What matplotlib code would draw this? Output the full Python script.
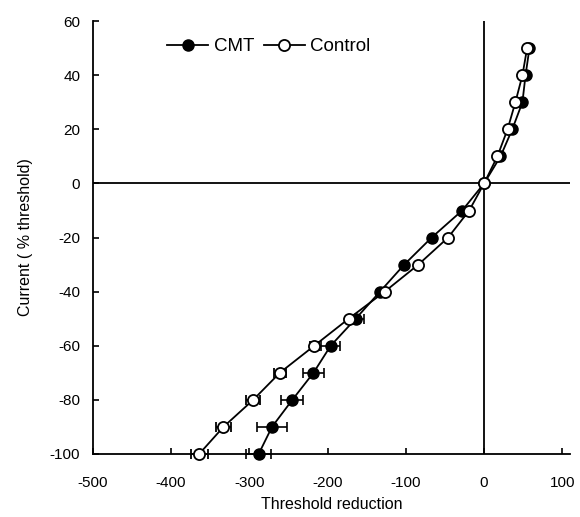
import matplotlib
matplotlib.use("Agg")
import matplotlib.pyplot as plt

plt.rcParams['font.family'] = ['Liberation Sans', 'DejaVu Sans']
plt.rcParams['axes.unicode_minus'] = False

# current levels (% threshold)
current = [50, 40, 30, 20, 10, 0, -10, -20, -30, -40, -50, -60, -70, -80, -90, -100]

# threshold reduction
cmt = [58, 53, 49, 36, 21, 0, -28, -67, -102, -133, -164, -196, -218, -245, -271, -288]
cmt_err = [0, 0, 0, 0, 0, 0, 0, 0, 0, 0, 10, 12, 14, 14, 19, 16]
control = [55, 49, 40, 30, 17, 0, -19, -46, -84, -127, -173, -217, -261, -295, -333, -364]
control_err = [0, 0, 0, 0, 0, 0, 0, 0, 0, 0, 0, 6, 8, 9, 9, 11]

xticks = [-500, -400, -300, -200, -100, 0, 100]
yticks = [-100, -80, -60, -40, -20, 0, 20, 40, 60]

fig = plt.figure(figsize=(5.8, 5.17), dpi=100)
ax = fig.add_axes([0.160, 0.122, 0.823, 0.837])

ax.axhline(0, color='black', lw=1.3, zorder=1)
ax.axvline(0, color='black', lw=1.3, zorder=1)

ax.errorbar(cmt, current, xerr=cmt_err, fmt='-o', color='black', mfc='black', mec='black',
            ms=8, lw=1.3, elinewidth=1.2, capsize=3.5, capthick=1.2, label='CMT', zorder=3,
            clip_on=False)
ax.errorbar(control, current, xerr=control_err, fmt='-o', color='black', mfc='white', mec='black',
            ms=8, mew=1.3, lw=1.3, elinewidth=1.2, capsize=3.5, capthick=1.2, label='Control', zorder=4,
            clip_on=False)

ax.set_xlim(-500, 110)
ax.set_ylim(-100, 60)
ax.set_xticks(xticks)
ax.set_yticks(yticks)
ax.spines['top'].set_visible(False)
ax.spines['right'].set_visible(False)
for s in ['left', 'bottom']:
    ax.spines[s].set_linewidth(1.3)
ax.tick_params(direction='in', length=4, width=1.2, labelsize=11)
ax.tick_params(axis='x', pad=16)
ax.tick_params(axis='y', pad=9)

ax.set_xlabel('Threshold reduction', fontsize=11.5, labelpad=5)
ax.set_ylabel('Current ( % threshold)', fontsize=11.5, labelpad=12)

handles, labels = ax.get_legend_handles_labels()
handles = [h[0] for h in handles]
ax.legend(handles, labels, loc='upper left', bbox_to_anchor=(0.12, 1.0), ncol=2, frameon=False,
          fontsize=13.5, handlelength=2.2, handletextpad=0.3, columnspacing=0.5)

fig.savefig('out.png', dpi=100)
